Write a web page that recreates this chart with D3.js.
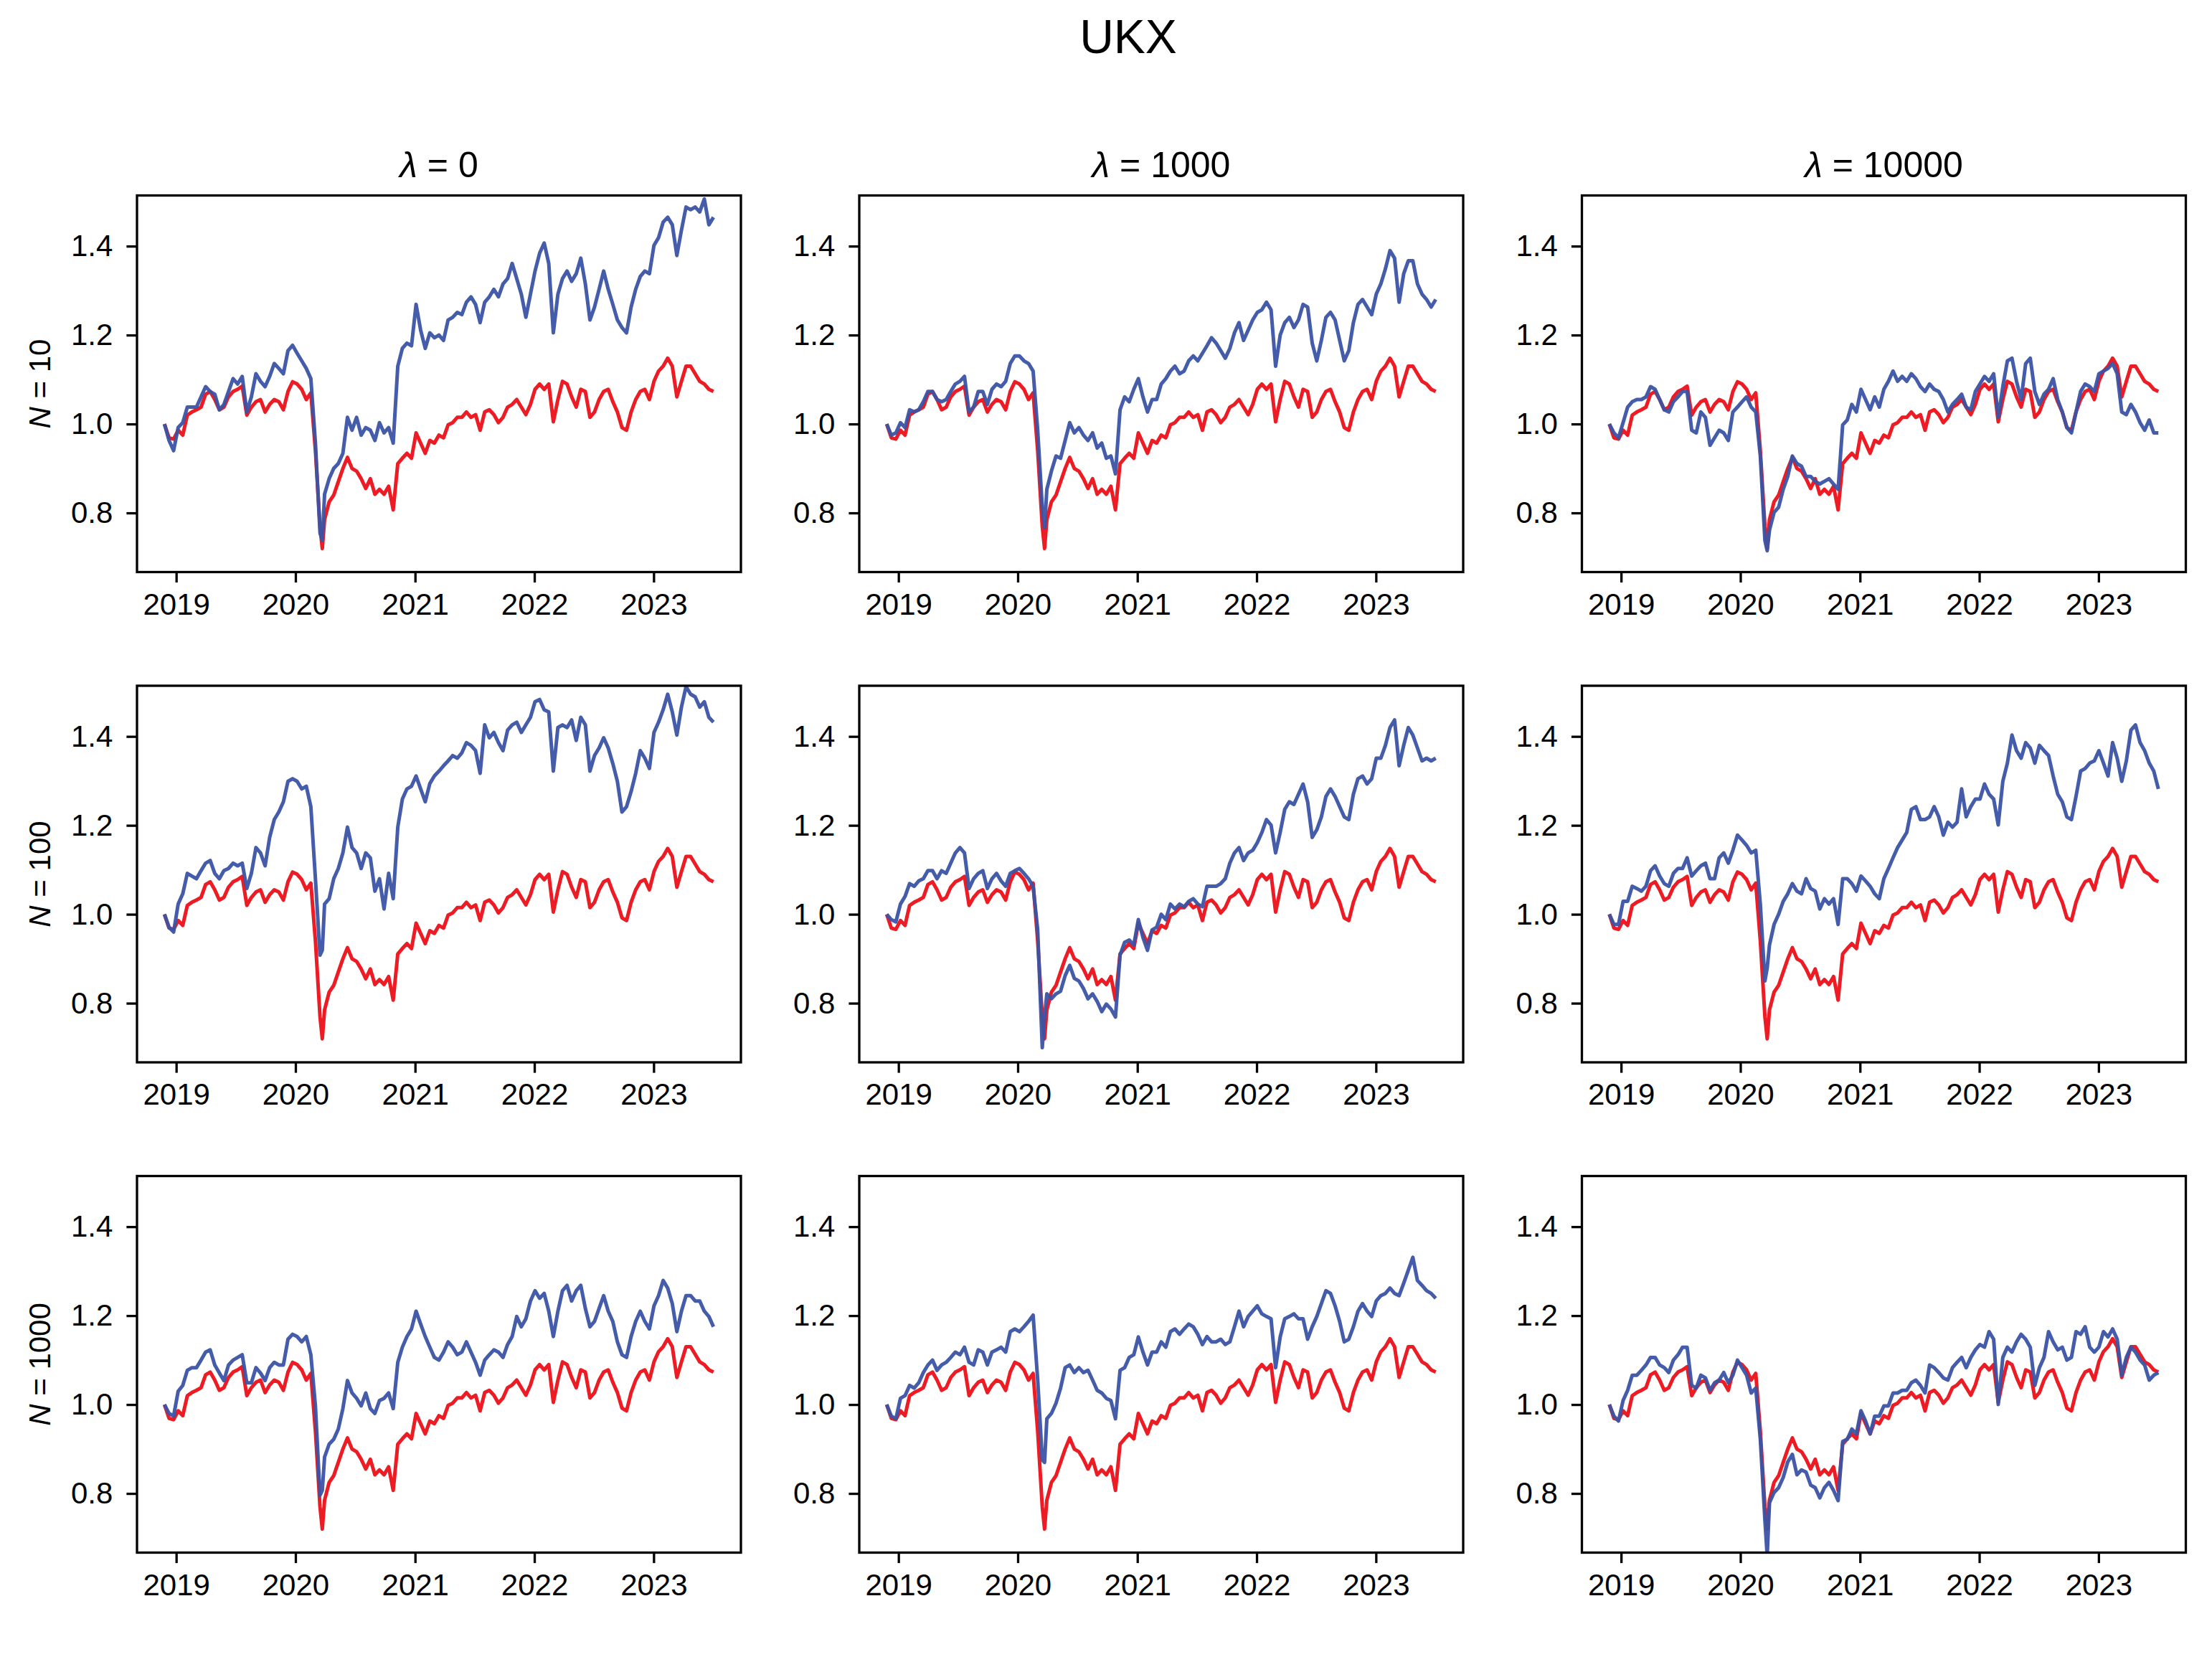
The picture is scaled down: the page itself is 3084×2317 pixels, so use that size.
<!DOCTYPE html>
<html><head><meta charset="utf-8">
<script src="https://cdn.jsdelivr.net/npm/d3@7"></script>
<style>body{margin:0;background:#fff}</style>
</head><body><svg id="chart" width="3084" height="2317"></svg>
<script>
const figTitle = "UKX";
const lambdaLabels = ["0", "1000", "10000"];
const nLabels = ["10", "100", "1000"];
const yTicks = [0.8, 1.0, 1.2, 1.4];
const xTickYears = [2019, 2020, 2021, 2022, 2023];

const dates = [
"2018-11-26","2018-12-10","2018-12-24","2019-01-07","2019-01-21","2019-02-04","2019-02-18","2019-03-04","2019-03-18","2019-04-01",
"2019-04-15","2019-04-29","2019-05-13","2019-05-27","2019-06-10","2019-06-24","2019-07-08","2019-07-22","2019-08-05","2019-08-19",
"2019-09-02","2019-09-16","2019-09-30","2019-10-14","2019-10-28","2019-11-11","2019-11-25","2019-12-09","2019-12-23","2020-01-06",
"2020-01-20","2020-02-03","2020-02-17","2020-03-02",
"2020-03-16","2020-03-23",
"2020-03-30","2020-04-13","2020-04-27","2020-05-11","2020-05-25","2020-06-08","2020-06-22","2020-07-06","2020-07-20","2020-08-03",
"2020-08-17","2020-08-31","2020-09-14","2020-09-28","2020-10-12","2020-10-26","2020-11-09","2020-11-23","2020-12-07","2020-12-21",
"2021-01-04","2021-01-18","2021-02-01","2021-02-15","2021-03-01","2021-03-15","2021-03-29","2021-04-12","2021-04-26","2021-05-10",
"2021-05-24","2021-06-07","2021-06-21","2021-07-05","2021-07-19","2021-08-02","2021-08-16","2021-08-30","2021-09-13","2021-09-27",
"2021-10-11","2021-10-25","2021-11-08","2021-11-22","2021-12-06","2021-12-20","2022-01-03","2022-01-17","2022-01-31","2022-02-14",
"2022-02-28","2022-03-14","2022-03-28","2022-04-11","2022-04-25","2022-05-09","2022-05-23","2022-06-06","2022-06-20","2022-07-04",
"2022-07-18","2022-08-01","2022-08-15","2022-08-29","2022-09-12","2022-09-26","2022-10-10","2022-10-24","2022-11-07","2022-11-21",
"2022-12-05","2022-12-19","2023-01-02","2023-01-16","2023-01-30","2023-02-13","2023-02-27","2023-03-13","2023-03-27","2023-04-10",
"2023-04-24","2023-05-08","2023-05-22","2023-06-05","2023-06-19","2023-07-03"];

// red: the UKX index (same in every panel)
const indexUKX = [
1.0,0.969,0.966,0.986,0.975,1.02,1.027,1.032,1.038,1.067,
1.073,1.055,1.032,1.038,1.061,1.073,1.078,1.085,1.02,1.038,
1.05,1.055,1.027,1.044,1.055,1.05,1.032,1.073,1.095,1.09,
1.078,1.055,1.07,0.94,
0.77,0.72,
0.785,0.825,0.84,0.87,0.9,0.925,0.9,0.894,0.877,0.855,
0.877,0.842,0.853,0.842,0.86,0.807,0.911,0.923,0.934,0.923,
0.98,0.957,0.934,0.963,0.957,0.975,0.969,0.998,1.003,1.015,
1.015,1.027,1.015,1.021,0.986,1.027,1.032,1.021,1.003,1.015,
1.038,1.044,1.055,1.038,1.021,1.044,1.078,1.09,1.078,1.09,
1.005,1.055,1.096,1.09,1.061,1.038,1.078,1.073,1.015,1.027,
1.055,1.073,1.078,1.05,1.027,0.992,0.986,1.027,1.055,1.073,
1.078,1.055,1.096,1.119,1.13,1.148,1.13,1.061,1.096,1.13,
1.13,1.113,1.096,1.09,1.078,1.073];

// blue: portfolios, N = 10
const portN10L0 = [
1.0,0.963,0.94,0.992,1.003,1.038,1.038,1.038,1.061,1.084,
1.073,1.067,1.032,1.044,1.073,1.102,1.09,1.107,1.027,1.061,
1.113,1.096,1.084,1.107,1.136,1.125,1.113,1.165,1.177,1.159,
1.142,1.125,1.102,0.957,
0.755,0.738,
0.842,0.877,0.9,0.911,0.934,1.015,0.986,1.015,0.975,0.992,
0.986,0.963,1.003,0.98,0.992,0.957,1.13,1.17,1.182,1.176,
1.269,1.211,1.17,1.205,1.194,1.2,1.188,1.234,1.24,1.251,
1.246,1.274,1.286,1.269,1.228,1.274,1.286,1.303,1.286,1.315,
1.327,1.361,1.327,1.292,1.24,1.292,1.344,1.384,1.407,1.361,
1.205,1.292,1.327,1.344,1.321,1.338,1.373,1.315,1.234,1.263,
1.303,1.344,1.303,1.269,1.234,1.217,1.205,1.263,1.303,1.332,
1.344,1.338,1.402,1.419,1.454,1.465,1.448,1.379,1.436,1.488,
1.482,1.488,1.477,1.506,1.448,1.465];
const portN10L1000 = [
1.0,0.975,0.98,1.003,0.992,1.032,1.027,1.032,1.05,1.073,
1.073,1.055,1.05,1.055,1.073,1.09,1.096,1.107,1.027,1.038,
1.073,1.073,1.044,1.078,1.09,1.084,1.096,1.136,1.153,1.153,
1.142,1.136,1.119,0.986,
0.813,0.767,
0.853,0.894,0.928,0.923,0.963,1.003,0.98,0.992,0.975,0.963,
0.98,0.946,0.957,0.923,0.928,0.888,1.032,1.061,1.05,1.078,
1.102,1.061,1.027,1.055,1.055,1.09,1.102,1.119,1.13,1.113,
1.119,1.142,1.153,1.142,1.159,1.176,1.194,1.182,1.165,1.148,
1.17,1.205,1.228,1.188,1.211,1.234,1.251,1.257,1.274,1.257,
1.13,1.2,1.228,1.24,1.217,1.234,1.269,1.263,1.182,1.142,
1.188,1.24,1.251,1.234,1.188,1.142,1.165,1.228,1.269,1.28,
1.263,1.246,1.292,1.315,1.349,1.39,1.373,1.274,1.338,1.367,
1.367,1.315,1.292,1.28,1.263,1.28];
const portN10L10000 = [
1.0,0.98,0.969,1.003,1.038,1.05,1.055,1.055,1.061,1.084,
1.078,1.055,1.032,1.027,1.05,1.061,1.073,1.073,0.986,0.98,
1.027,1.015,0.952,0.969,0.986,0.98,0.963,1.027,1.038,1.05,
1.061,1.038,1.027,0.928,
0.738,0.715,
0.761,0.801,0.813,0.853,0.882,0.928,0.911,0.905,0.882,0.882,
0.871,0.865,0.871,0.877,0.865,0.853,0.998,1.009,1.044,1.027,
1.078,1.055,1.032,1.061,1.038,1.078,1.096,1.119,1.096,1.107,
1.096,1.113,1.102,1.084,1.073,1.09,1.078,1.073,1.055,1.027,
1.044,1.055,1.067,1.038,1.032,1.073,1.09,1.107,1.096,1.113,
1.015,1.084,1.142,1.148,1.096,1.055,1.136,1.148,1.073,1.044,
1.067,1.078,1.102,1.055,1.027,0.992,0.98,1.027,1.073,1.09,
1.084,1.073,1.113,1.119,1.125,1.136,1.113,1.027,1.021,1.044,
1.027,1.003,0.986,1.009,0.98,0.98];

// blue: portfolios, N = 100
const portN100L0 = [
1.0,0.971,0.96,1.023,1.046,1.092,1.086,1.08,1.098,1.115,
1.121,1.092,1.08,1.098,1.103,1.115,1.109,1.115,1.058,1.092,
1.15,1.138,1.109,1.173,1.213,1.23,1.253,1.299,1.305,1.299,
1.282,1.288,1.242,1.08,
0.908,0.919,
1.023,1.035,1.08,1.103,1.138,1.196,1.15,1.138,1.103,1.138,
1.127,1.052,1.08,1.012,1.092,1.035,1.196,1.259,1.282,1.288,
1.311,1.282,1.253,1.294,1.311,1.322,1.334,1.345,1.357,1.351,
1.363,1.386,1.38,1.368,1.317,1.426,1.397,1.409,1.386,1.368,
1.414,1.426,1.432,1.409,1.426,1.443,1.478,1.483,1.46,1.455,
1.322,1.42,1.426,1.42,1.437,1.391,1.443,1.426,1.322,1.357,
1.374,1.397,1.374,1.339,1.299,1.23,1.242,1.276,1.317,1.368,
1.351,1.328,1.409,1.432,1.46,1.495,1.455,1.403,1.466,1.512,
1.495,1.489,1.466,1.478,1.443,1.432];
const portN100L1000 = [
1.0,0.988,0.983,1.023,1.04,1.069,1.063,1.075,1.08,1.098,
1.098,1.08,1.098,1.092,1.115,1.138,1.15,1.138,1.058,1.08,
1.092,1.098,1.058,1.08,1.092,1.075,1.063,1.092,1.098,1.103,
1.092,1.08,1.063,0.965,
0.70,0.77,
0.821,0.81,0.821,0.827,0.862,0.885,0.856,0.85,0.833,0.81,
0.821,0.804,0.781,0.798,0.787,0.769,0.908,0.937,0.942,0.931,
0.988,0.948,0.919,0.965,0.971,1.0,0.988,1.023,1.012,1.023,
1.017,1.029,1.035,1.023,1.017,1.063,1.063,1.063,1.069,1.08,
1.115,1.138,1.15,1.121,1.138,1.144,1.161,1.184,1.213,1.201,
1.138,1.184,1.236,1.253,1.247,1.27,1.293,1.253,1.173,1.19,
1.219,1.265,1.282,1.265,1.242,1.219,1.213,1.27,1.305,1.311,
1.293,1.305,1.351,1.351,1.38,1.42,1.437,1.334,1.38,1.42,
1.403,1.374,1.345,1.351,1.345,1.351];
const portN100L10000 = [
1.0,0.977,0.977,1.029,1.029,1.063,1.058,1.052,1.063,1.098,
1.109,1.086,1.069,1.063,1.092,1.103,1.103,1.127,1.086,1.098,
1.109,1.115,1.08,1.08,1.127,1.138,1.115,1.144,1.178,1.167,
1.155,1.138,1.144,1.023,
0.85,0.879,
0.931,0.977,1.0,1.029,1.046,1.069,1.052,1.046,1.08,1.058,
1.052,1.012,1.035,1.023,1.035,0.977,1.08,1.08,1.069,1.052,
1.086,1.075,1.063,1.046,1.035,1.08,1.103,1.127,1.15,1.167,
1.184,1.236,1.242,1.213,1.213,1.219,1.242,1.219,1.178,1.207,
1.196,1.207,1.282,1.219,1.242,1.259,1.259,1.293,1.27,1.259,
1.201,1.299,1.34,1.403,1.368,1.351,1.386,1.374,1.34,1.38,
1.368,1.357,1.311,1.27,1.253,1.219,1.213,1.265,1.322,1.328,
1.34,1.345,1.368,1.34,1.311,1.386,1.351,1.299,1.345,1.414,
1.426,1.386,1.368,1.34,1.322,1.282];

// blue: portfolios, N = 1000
const portN1000L0 = [
1.0,0.98,0.974,1.03,1.043,1.077,1.083,1.083,1.1,1.118,
1.123,1.089,1.071,1.054,1.089,1.1,1.106,1.112,1.049,1.049,
1.083,1.071,1.054,1.083,1.095,1.089,1.089,1.147,1.158,1.153,
1.141,1.153,1.112,0.997,
0.796,0.807,
0.882,0.911,0.922,0.945,0.991,1.054,1.026,1.014,0.997,1.026,
0.991,0.98,1.009,1.014,1.026,0.991,1.095,1.129,1.153,1.17,
1.21,1.181,1.153,1.129,1.106,1.1,1.118,1.141,1.129,1.112,
1.118,1.141,1.118,1.095,1.066,1.1,1.112,1.123,1.118,1.106,
1.135,1.153,1.198,1.175,1.193,1.233,1.256,1.239,1.25,1.21,
1.153,1.21,1.256,1.268,1.233,1.256,1.268,1.216,1.175,1.187,
1.216,1.245,1.21,1.187,1.141,1.112,1.106,1.153,1.187,1.21,
1.187,1.17,1.222,1.245,1.279,1.262,1.227,1.164,1.21,1.245,
1.245,1.233,1.233,1.21,1.198,1.175];
const portN1000L1000 = [
1.0,0.974,0.968,1.014,1.02,1.043,1.037,1.049,1.072,1.089,
1.1,1.077,1.089,1.095,1.106,1.118,1.112,1.129,1.095,1.089,
1.123,1.118,1.089,1.118,1.123,1.129,1.118,1.164,1.17,1.164,
1.175,1.187,1.201,1.055,
0.875,0.87,
0.968,0.98,1.003,1.037,1.083,1.089,1.072,1.083,1.072,1.077,
1.055,1.032,1.026,1.014,1.009,0.968,1.077,1.083,1.106,1.112,
1.152,1.118,1.089,1.118,1.118,1.141,1.129,1.164,1.17,1.158,
1.17,1.181,1.175,1.158,1.135,1.153,1.141,1.141,1.147,1.135,
1.141,1.175,1.21,1.175,1.198,1.21,1.222,1.204,1.198,1.193,
1.083,1.152,1.193,1.198,1.204,1.193,1.193,1.147,1.175,1.198,
1.227,1.256,1.25,1.222,1.187,1.141,1.147,1.175,1.21,1.227,
1.21,1.198,1.233,1.245,1.25,1.262,1.25,1.245,1.273,1.302,
1.331,1.279,1.268,1.256,1.25,1.239];
const portN1000L10000 = [
1.0,0.974,0.963,1.009,1.032,1.066,1.066,1.077,1.089,1.106,
1.106,1.089,1.083,1.072,1.1,1.112,1.129,1.129,1.043,1.037,
1.066,1.06,1.032,1.049,1.055,1.072,1.049,1.066,1.1,1.083,
1.066,1.026,1.037,0.922,
0.74,0.66,
0.779,0.802,0.813,0.836,0.871,0.888,0.842,0.853,0.848,0.819,
0.813,0.79,0.813,0.825,0.807,0.784,0.917,0.922,0.945,0.934,
0.986,0.963,0.934,0.974,0.974,0.997,0.997,1.026,1.026,1.032,
1.032,1.049,1.055,1.043,1.026,1.089,1.083,1.072,1.06,1.055,
1.083,1.095,1.106,1.083,1.106,1.123,1.135,1.129,1.164,1.147,
1.0,1.106,1.129,1.118,1.141,1.158,1.147,1.129,1.043,1.083,
1.106,1.164,1.141,1.123,1.129,1.1,1.106,1.164,1.158,1.175,
1.129,1.118,1.129,1.164,1.152,1.17,1.147,1.066,1.106,1.129,
1.118,1.1,1.089,1.055,1.066,1.072];

const panelSeries = [
  [portN10L0, portN10L1000, portN10L10000],
  [portN100L0, portN100L1000, portN100L10000],
  [portN1000L0, portN1000L1000, portN1000L10000]
];

// ---------- layout / style ----------
const FONT = '"Liberation Sans", Arial, Helvetica, sans-serif';
const RED = "#ed1c24", BLUE = "#3a53a4";
const colLeft = [191, 1198, 2205.5];
const rowTop = [272.5, 956, 1639.5];
const PW = 842, PH = 525;
const yDomain = [0.667, 1.514];

const svg = d3.select("#chart");
svg.append("rect").attr("width", 3084).attr("height", 2317).attr("fill", "#fff");

svg.append("text").attr("x", 1573).attr("y", 74).attr("text-anchor", "middle")
  .attr("font-family", FONT).attr("font-size", 66).attr("fill", "#000").text(figTitle);

const parse = d3.utcParse("%Y-%m-%d");
const dts = dates.map(parse);
const ext = d3.extent(dts);
const span = ext[1] - ext[0];
const x = d3.scaleUtc()
  .domain([new Date(+ext[0] - 0.05 * span), new Date(+ext[1] + 0.05 * span)])
  .range([0, PW]);
const y = d3.scaleLinear().domain(yDomain).range([PH, 0]);
const xTicks = xTickYears.map(yr => new Date(Date.UTC(yr, 0, 1)));
const line = d3.line().x(d => x(d[0])).y(d => y(d[1]));
const zip = vals => dts.slice(0, vals.length).map((d, i) => [d, vals[i]]);

nLabels.forEach((nLab, r) => {
  lambdaLabels.forEach((lLab, c) => {
    const g = svg.append("g").attr("transform", `translate(${colLeft[c]},${rowTop[r]})`);
    const clipId = `clip-${r}-${c}`;
    g.append("clipPath").attr("id", clipId).append("rect").attr("width", PW).attr("height", PH);
    const plot = g.append("g").attr("clip-path", `url(#${clipId})`);
    plot.append("path").datum(zip(indexUKX)).attr("d", line)
      .attr("fill", "none").attr("stroke", RED).attr("stroke-width", 5).attr("stroke-linejoin", "round");
    plot.append("path").datum(zip(panelSeries[r][c])).attr("d", line)
      .attr("fill", "none").attr("stroke", BLUE).attr("stroke-width", 5).attr("stroke-linejoin", "round")
      .attr("stroke-opacity", 0.95);

    const xa = g.append("g").attr("transform", `translate(0,${PH})`)
      .call(d3.axisBottom(x).tickValues(xTicks).tickFormat(d3.utcFormat("%Y")).tickSize(14.6).tickPadding(15));
    const ya = g.append("g")
      .call(d3.axisLeft(y).tickValues(yTicks).tickFormat(d3.format(".1f")).tickSize(14.6).tickPadding(19));
    [xa, ya].forEach(a => {
      a.attr("font-family", FONT).attr("font-size", 42);
      a.select(".domain").remove();
      a.selectAll(".tick line").attr("stroke", "#000").attr("stroke-width", 3.3);
      a.selectAll(".tick text").attr("fill", "#000");
    });

    g.append("rect").attr("width", PW).attr("height", PH)
      .attr("fill", "none").attr("stroke", "#000").attr("stroke-width", 3.3);

    if (r === 0) {
      const t = g.append("text").attr("x", PW / 2).attr("y", -25.5).attr("text-anchor", "middle")
        .attr("font-family", FONT).attr("font-size", 50).attr("fill", "#000");
      t.append("tspan").attr("font-style", "italic").text("λ");
      t.append("tspan").text(" = " + lLab);
    }
    if (c === 0) {
      const t = g.append("text")
        .attr("transform", `translate(${70 - colLeft[0]},${PH / 2}) rotate(-90)`)
        .attr("text-anchor", "middle")
        .attr("font-family", FONT).attr("font-size", 42).attr("fill", "#000");
      t.append("tspan").attr("font-style", "italic").text("N");
      t.append("tspan").text(" = " + nLab);
    }
  });
});
</script>
</body></html>
